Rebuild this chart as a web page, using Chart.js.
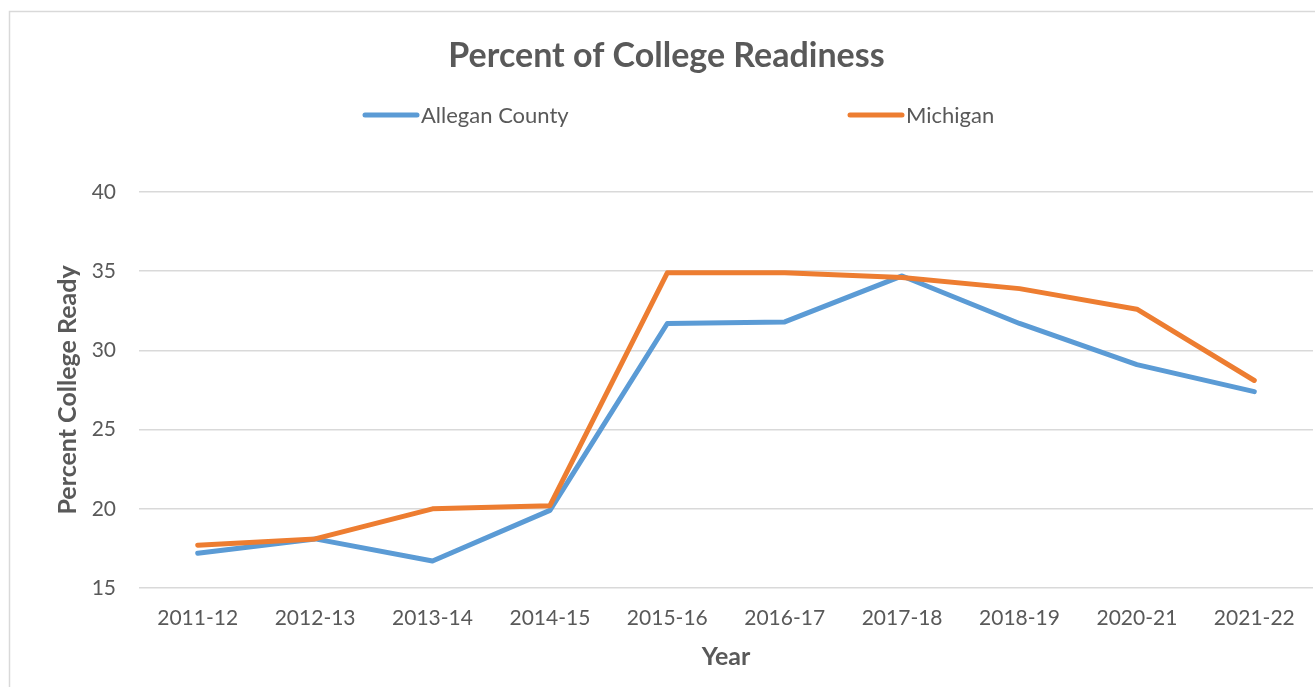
<!DOCTYPE html>
<html>
<head>
<meta charset="utf-8">
<script src="https://cdn.jsdelivr.net/npm/chart.js@4.4.0/dist/chart.umd.min.js"></script>
<style>
  html, body { margin: 0; padding: 0; background: #fff; overflow: hidden; }
  #wrap { width: 1315px; height: 687px; }
</style>
</head>
<body>
<div id="wrap"><canvas id="myChart" width="1315" height="687"></canvas></div>
<script>
// data
const years = ["2011-12", "2012-13", "2013-14", "2014-15", "2015-16", "2016-17", "2017-18", "2018-19", "2020-21", "2021-22"];
const allegan = [17.2, 18.1, 16.7, 19.9, 31.7, 31.8, 34.7, 31.7, 29.1, 27.4];
const michigan = [17.7, 18.1, 20.0, 20.2, 34.9, 34.9, 34.6, 33.9, 32.6, 28.1];
const yTicks = [15, 20, 25, 30, 35, 40];

const textColor = "#595959";
const gridColor = "#d9d9d9";
const fontFamily = "Lato, 'Open Sans', sans-serif";

// outer frame, like the office chart box
const frame = {
  id: "frame",
  beforeDraw(chart) {
    const ctx = chart.ctx;
    ctx.save();
    ctx.strokeStyle = gridColor;
    ctx.lineWidth = 1.5;
    ctx.strokeRect(9.5, 11.5, chart.width + 20, chart.height + 20);
    ctx.restore();
  }
};

// legend with the wide gap between the two entries
const wideLegend = {
  id: "wideLegend",
  afterDraw(chart) {
    const ctx = chart.ctx;
    const starts = [363, 848];
    const y = 115;
    ctx.save();
    ctx.font = "22px " + fontFamily;
    ctx.textBaseline = "middle";
    ctx.textAlign = "left";
    chart.data.datasets.forEach((ds, i) => {
      const x = starts[i];
      ctx.strokeStyle = ds.borderColor;
      ctx.lineWidth = 5;
      ctx.lineCap = "round";
      ctx.beginPath();
      ctx.moveTo(x + 2, y);
      ctx.lineTo(x + 54, y);
      ctx.stroke();
      ctx.fillStyle = textColor;
      ctx.fillText(ds.label, x + 58, y + 1);
    });
    ctx.restore();
  }
};

const ctx = document.getElementById("myChart").getContext("2d");

new Chart(ctx, {
  type: "line",
  data: {
    labels: years,
    datasets: [
      {
        label: "Allegan County",
        data: allegan,
        borderColor: "#5B9BD5",
        backgroundColor: "#5B9BD5",
        order: 1
      },
      {
        label: "Michigan",
        data: michigan,
        borderColor: "#ED7D31",
        backgroundColor: "#ED7D31",
        order: 0
      }
    ]
  },
  options: {
    responsive: false,
    animation: false,
    layout: { padding: { left: 20, right: 2, top: 0, bottom: 0 } },
    elements: {
      line: { borderWidth: 5, tension: 0, borderCapStyle: "round", borderJoinStyle: "round" },
      point: { radius: 0, hoverRadius: 0 }
    },
    plugins: {
      legend: { display: false },
      tooltip: { enabled: false },
      title: {
        display: true,
        text: "Percent of College Readiness",
        color: textColor,
        font: { family: fontFamily, size: 34, weight: "bold" },
        padding: { top: 35.6, bottom: 115.6 }
      }
    },
    scales: {
      x: {
        offset: true,
        grid: { display: false, drawTicks: false },
        border: { display: false },
        ticks: {
          color: textColor,
          font: { family: fontFamily, size: 21 },
          padding: 18,
          maxRotation: 0,
          autoSkip: false
        },
        title: {
          display: true,
          text: "Year",
          color: textColor,
          font: { family: fontFamily, size: 25, weight: "bold" },
          padding: { top: 0, bottom: 15 }
        },
        afterFit(scale) { scale.height = 99; }
      },
      y: {
        min: yTicks[0],
        max: yTicks[yTicks.length - 1],
        grid: { color: gridColor, lineWidth: 1.5, drawTicks: false },
        border: { display: false },
        afterBuildTicks(scale) { scale.ticks = yTicks.map(v => ({ value: v })); },
        ticks: {
          color: textColor,
          font: { family: fontFamily, size: 21 },
          padding: 23
        },
        title: {
          display: true,
          text: "Percent College Ready",
          color: textColor,
          font: { family: fontFamily, size: 25, weight: "bold" },
          padding: { top: 33, bottom: 0 }
        },
        afterFit(scale) { scale.width = 119; }
      }
    }
  },
  plugins: [frame, wideLegend]
});
</script>
</body>
</html>
